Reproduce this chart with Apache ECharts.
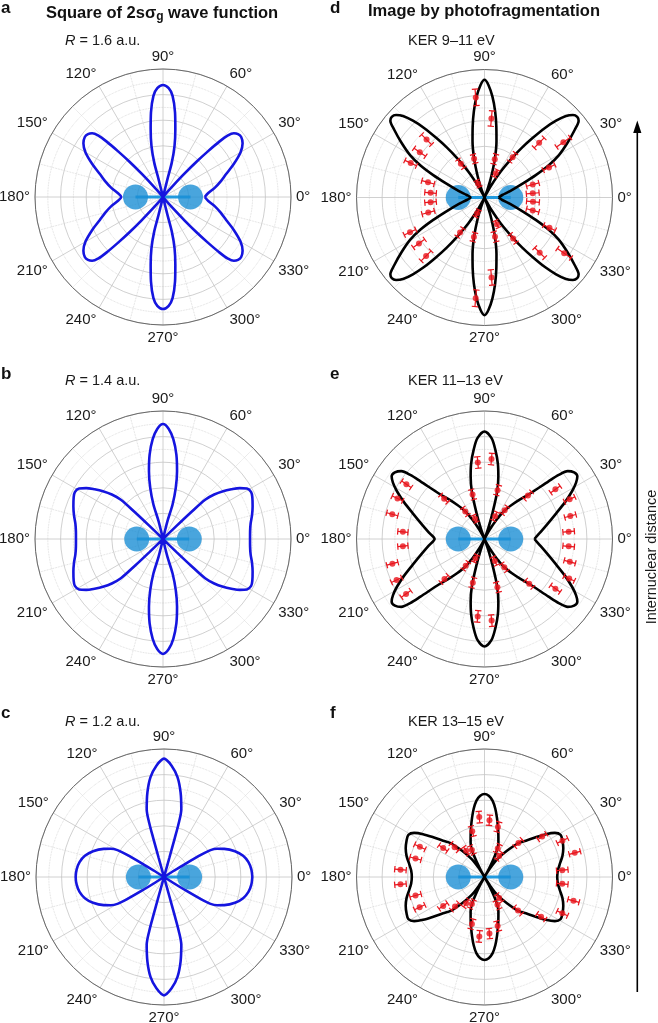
<!DOCTYPE html>
<html><head><meta charset="utf-8">
<script src="https://cdn.jsdelivr.net/npm/echarts@6/dist/echarts.min.js"></script>
<style>html,body{margin:0;padding:0;background:#fff}#c{width:658px;height:1023px}</style>
</head><body><div id="c"></div><script>
const FONT = "'Liberation Sans', Arial, Helvetica, sans-serif";
const BLUE = '#1515df', BLACK = '#000000', RED = '#e8141c', ATOM = '#1b8fd4', BAR = '#229ade';

// first-quadrant outline of each curve (angle in degrees, radius normalised to the outer ring); mirrored into the other quadrants
const thetaA = [0,5,10,15,20,25,30,34,37.5,40,42,43.5,44.5,45.5,46.5,47.5,48.5,49.5,50,76,76,75.7,77.3,79.7,81.9,84.6,87,90];
const rA     = [0.326,0.355,0.41,0.465,0.525,0.61,0.70,0.75,0.77,0.765,0.745,0.7,0.62,0.5,0.38,0.25,0.13,0.05,0,0,0.144,0.279,0.41,0.539,0.667,0.794,0.851,0.875];
const thetaB = [0,5,10,15,20,25,28,31,33.5,36,38.5,41,43,43.6,44,44.3,75,76,74.5,76,78.3,81,84.1,87,90];
const rB     = [0.68,0.683,0.695,0.72,0.745,0.77,0.78,0.765,0.72,0.66,0.6,0.53,0.45,0.3,0.15,0,0,0.144,0.28,0.412,0.541,0.668,0.784,0.861,0.898];
const thetaC = [0,5,10,15,20,25,28,30,31,31.8,32.4,33,74.4,74.4,74.5,74.7,75.7,78.9,82.3,86.1,90];
const rC     = [0.69,0.685,0.67,0.64,0.59,0.52,0.47,0.42,0.34,0.2,0.08,0,0,0.156,0.311,0.435,0.547,0.673,0.787,0.872,0.925];
const thetaD = [0,8,14,20.1,23.6,26.6,29.6,33.5,36.9,39.2,41,43,45,47,49,51,53,55,58,61,63.5,65,68,70,72,75,78,80.5,83,85.5,88,90];
const rD     = [0.11,0.14,0.206,0.32,0.437,0.559,0.667,0.779,0.882,0.949,0.96,0.945,0.9,0.82,0.72,0.6,0.49,0.38,0.24,0.11,0.03,0,0,0.08,0.17,0.31,0.45,0.56,0.68,0.79,0.88,0.92];
const thetaE = [0,6,13.2,19.7,24.7,28.7,31.6,34,36.6,39.2,40.8,42,45,48,51,55,58,61,63,69,71,73,75,77.5,80,83,86,90];
const rE     = [0.39,0.432,0.503,0.595,0.694,0.781,0.84,0.875,0.872,0.839,0.766,0.673,0.5,0.42,0.35,0.27,0.18,0.08,0,0,0.1,0.22,0.38,0.5,0.6,0.7,0.79,0.84];
const thetaF = [0,5,10,15,20,25,29,32.1,34.9,37.8,41.2,45,49.5,54.5,57.3,60,61.5,63,64.5,66,68,72,75,78,81,84,87,90];
const rF     = [0.568,0.575,0.598,0.63,0.655,0.672,0.68,0.649,0.585,0.506,0.43,0.375,0.27,0.172,0.083,0,0.06,0.14,0.21,0.255,0.29,0.35,0.405,0.47,0.54,0.6,0.635,0.648];

// measured yields (angle bins centred on 5°, 15°, ... 355°)
const binAngles = [5,15,25,35,45,55,65,75,85,95,105,115,125,135,145,155,165,175,185,195,205,215,225,235,245,255,265,275,285,295,305,315,325,335,345,355];
const kerD = [0.378,0.39,0.556,0.752,0.604,0.383,0.208,0.31,0.619,0.785,0.313,0.119,0.322,0.64,0.617,0.636,0.457,0.423,0.423,0.455,0.642,0.625,0.645,0.333,0.136,0.32,0.79,0.627,0.317,0.23,0.39,0.61,0.76,0.56,0.39,0.38];
const errD = [0.05,0.05,0.05,0.065,0.055,0.04,0.03,0.04,0.06,0.065,0.035,0.028,0.04,0.055,0.055,0.05,0.05,0.045,0.045,0.05,0.05,0.055,0.055,0.04,0.03,0.035,0.065,0.06,0.04,0.03,0.04,0.055,0.065,0.05,0.05,0.05];
const kerE = [0.66,0.694,0.734,0.676,0.48,0.275,0.196,0.395,0.627,0.6,0.36,0.175,0.262,0.446,0.745,0.75,0.746,0.64,0.64,0.745,0.758,0.748,0.442,0.256,0.168,0.353,0.607,0.64,0.39,0.19,0.27,0.494,0.676,0.73,0.69,0.66];
const errE = [0.045,0.045,0.045,0.045,0.04,0.035,0.035,0.04,0.045,0.045,0.04,0.03,0.035,0.04,0.045,0.045,0.045,0.04,0.04,0.045,0.045,0.045,0.04,0.035,0.03,0.04,0.045,0.045,0.04,0.035,0.035,0.04,0.045,0.045,0.045,0.045];
const kerF = [0.61,0.73,0.672,0.55,0.375,0.2,0.245,0.405,0.445,0.47,0.37,0.233,0.25,0.33,0.394,0.557,0.558,0.659,0.659,0.558,0.559,0.394,0.326,0.25,0.233,0.38,0.466,0.444,0.397,0.24,0.2,0.37,0.54,0.671,0.72,0.61];
const errF = [0.045,0.045,0.045,0.04,0.04,0.035,0.035,0.04,0.04,0.045,0.04,0.035,0.035,0.04,0.04,0.045,0.045,0.045,0.045,0.045,0.045,0.04,0.04,0.035,0.035,0.04,0.045,0.04,0.04,0.035,0.035,0.04,0.04,0.045,0.045,0.045];

// atom positions (normalised radius of the two nuclei)
const atomPos = [0.215, 0.205, 0.2, 0.205, 0.205, 0.205];

const panels = [
  {cx:163, cy:197, th:thetaA, r:rA, color:BLUE},
  {cx:163, cy:539, th:thetaB, r:rB, color:BLUE},
  {cx:164, cy:877, th:thetaC, r:rC, color:BLUE},
  {cx:484.5, cy:197.5, th:thetaD, r:rD, color:BLACK, ker:kerD, err:errD},
  {cx:484.5, cy:539, th:thetaE, r:rE, color:BLACK, ker:kerE, err:errE},
  {cx:484.5, cy:877, th:thetaF, r:rF, color:BLACK, ker:kerF, err:errF}
];

function fullCurve(th, r){
  const pts = [];
  for (let i=0;i<th.length;i++) pts.push([r[i], th[i]]);
  for (let i=th.length-2;i>=0;i--) pts.push([r[i], 180-th[i]]);
  for (let i=1;i<th.length;i++) pts.push([r[i], 180+th[i]]);
  for (let i=th.length-2;i>=0;i--) pts.push([r[i], 360-th[i]]);
  return pts;
}

const polar = [], angleAxis = [], radiusAxis = [], series = [];
panels.forEach((p, i) => {
  polar.push({center:[p.cx, p.cy], radius:128});
  angleAxis.push({
    polarIndex:i, type:'value', min:0, max:360, interval:30, startAngle:0, clockwise:false,
    axisLine:{lineStyle:{color:'#6a6a6a', width:1}}, axisTick:{show:false},
    axisLabel:{formatter:'{value}°', fontSize:15, color:'#1a1a1a', margin:5, fontFamily:FONT},
    splitLine:{show:true, lineStyle:{color:'#c4c4c4', width:0.8}},
    minorTick:{show:false, splitNumber:2},
    minorSplitLine:{show:true, lineStyle:{color:'#d2d2d2', width:0.8, type:'dotted'}}
  });
  radiusAxis.push({
    polarIndex:i, type:'value', min:0, max:1, interval:0.2,
    axisLine:{show:false}, axisTick:{show:false}, axisLabel:{show:false},
    splitLine:{show:true, lineStyle:{color:'#c4c4c4', width:0.8}},
    minorTick:{show:false, splitNumber:2},
    minorSplitLine:{show:true, lineStyle:{color:'#d2d2d2', width:0.8, type:'dotted'}}
  });
  const a = atomPos[i];
  series.push({type:'line', coordinateSystem:'polar', polarIndex:i, data:[[a,180],[0,0],[a,0]],
    symbol:'none', lineStyle:{color:BAR, width:3.2}, z:3, silent:true});
  series.push({type:'scatter', coordinateSystem:'polar', polarIndex:i, data:[[a,0],[a,180]],
    symbolSize:25, itemStyle:{color:ATOM}, z:3, silent:true});
  series.push({type:'line', coordinateSystem:'polar', polarIndex:i, data:fullCurve(p.th, p.r),
    smooth:0.3, symbol:'none', lineStyle:{color:p.color, width:2.6}, z:5, silent:true});
  if (p.ker) {
    const d = p.ker.map((v, k) => [v, binAngles[k], p.err[k]]);
    series.push({type:'custom', coordinateSystem:'polar', polarIndex:i, data:d, z:7, silent:true,
      dimensions:['r','a','e'], encode:{radius:0, angle:1},
      renderItem:function(params, api){
        const r = api.value(0), ang = api.value(1), e = api.value(2);
        const p1 = api.coord([r - e, ang]), p2 = api.coord([r + e, ang]);
        const dx = p2[0]-p1[0], dy = p2[1]-p1[1], L = Math.hypot(dx,dy) || 1;
        const nx = -dy/L*3.2, ny = dx/L*3.2;
        const st = {stroke:RED, lineWidth:1.2};
        return {type:'group', children:[
          {type:'line', shape:{x1:p1[0],y1:p1[1],x2:p2[0],y2:p2[1]}, style:st},
          {type:'line', shape:{x1:p1[0]-nx,y1:p1[1]-ny,x2:p1[0]+nx,y2:p1[1]+ny}, style:st},
          {type:'line', shape:{x1:p2[0]-nx,y1:p2[1]-ny,x2:p2[0]+nx,y2:p2[1]+ny}, style:st}
        ]};
      }});
    series.push({type:'scatter', coordinateSystem:'polar', polarIndex:i, data:d.map(q => [q[0], q[1]]),
      symbolSize:6, itemStyle:{color:RED}, z:8, silent:true});
  }
});

const panelLetters = ['a','b','c','d','e','f'];
const letterPos = [[1,0],[1,366],[1,705],[330,0],[330,366],[330,705]];
const subTexts = ['{i|R} = 1.6 a.u.','{i|R} = 1.4 a.u.','{i|R} = 1.2 a.u.','KER 9–11 eV','KER 11–13 eV','KER 13–15 eV'];
const subPos = [[65,33],[65,373],[65,714],[408,33],[408,373],[408,714]];

const title = [];
panelLetters.forEach((t, k) => title.push({text:t, left:letterPos[k][0], top:letterPos[k][1], padding:0,
  textStyle:{fontSize:17, fontWeight:'bold', color:'#111', fontFamily:FONT}}));
subTexts.forEach((t, k) => title.push({text:t, left:subPos[k][0], top:subPos[k][1], padding:0,
  textStyle:{fontSize:14.5, fontWeight:'normal', color:'#1a1a1a', fontFamily:FONT,
    rich:{i:{fontStyle:'italic', fontSize:14.5, color:'#1a1a1a', fontFamily:FONT}}}}));
title.push({text:'{b|Square of 2sσ}{s|g}{b| wave function}', left:162, top:3, textAlign:'center', padding:0,
  textStyle:{rich:{b:{fontSize:16.5, fontWeight:'bold', color:'#111', fontFamily:FONT},
    s:{fontSize:12, fontWeight:'bold', color:'#111', fontFamily:FONT, padding:[8,0,0,0]}}}});
title.push({text:'Image by photofragmentation', left:484, top:3, textAlign:'center', padding:0,
  textStyle:{fontSize:16.5, fontWeight:'bold', color:'#111', fontFamily:FONT}});

const option = {
  animation:false, backgroundColor:'#fff',
  title, polar, angleAxis, radiusAxis, series,
  graphic:[
    {type:'line', shape:{x1:637.3, y1:992, x2:637.3, y2:130}, style:{stroke:'#000', lineWidth:1.6}},
    {type:'polygon', shape:{points:[[633.2,133],[641.4,133],[637.3,120.5]]}, style:{fill:'#000'}},
    {type:'text', x:652, y:557, rotation:Math.PI/2,
      style:{text:'Internuclear distance', fontSize:14.5, fontFamily:FONT, fill:'#1a1a1a', align:'center', verticalAlign:'middle'}}
  ]
};
const chart = echarts.init(document.getElementById('c'), null, {renderer:'canvas'});
chart.setOption(option);
</script></body></html>
